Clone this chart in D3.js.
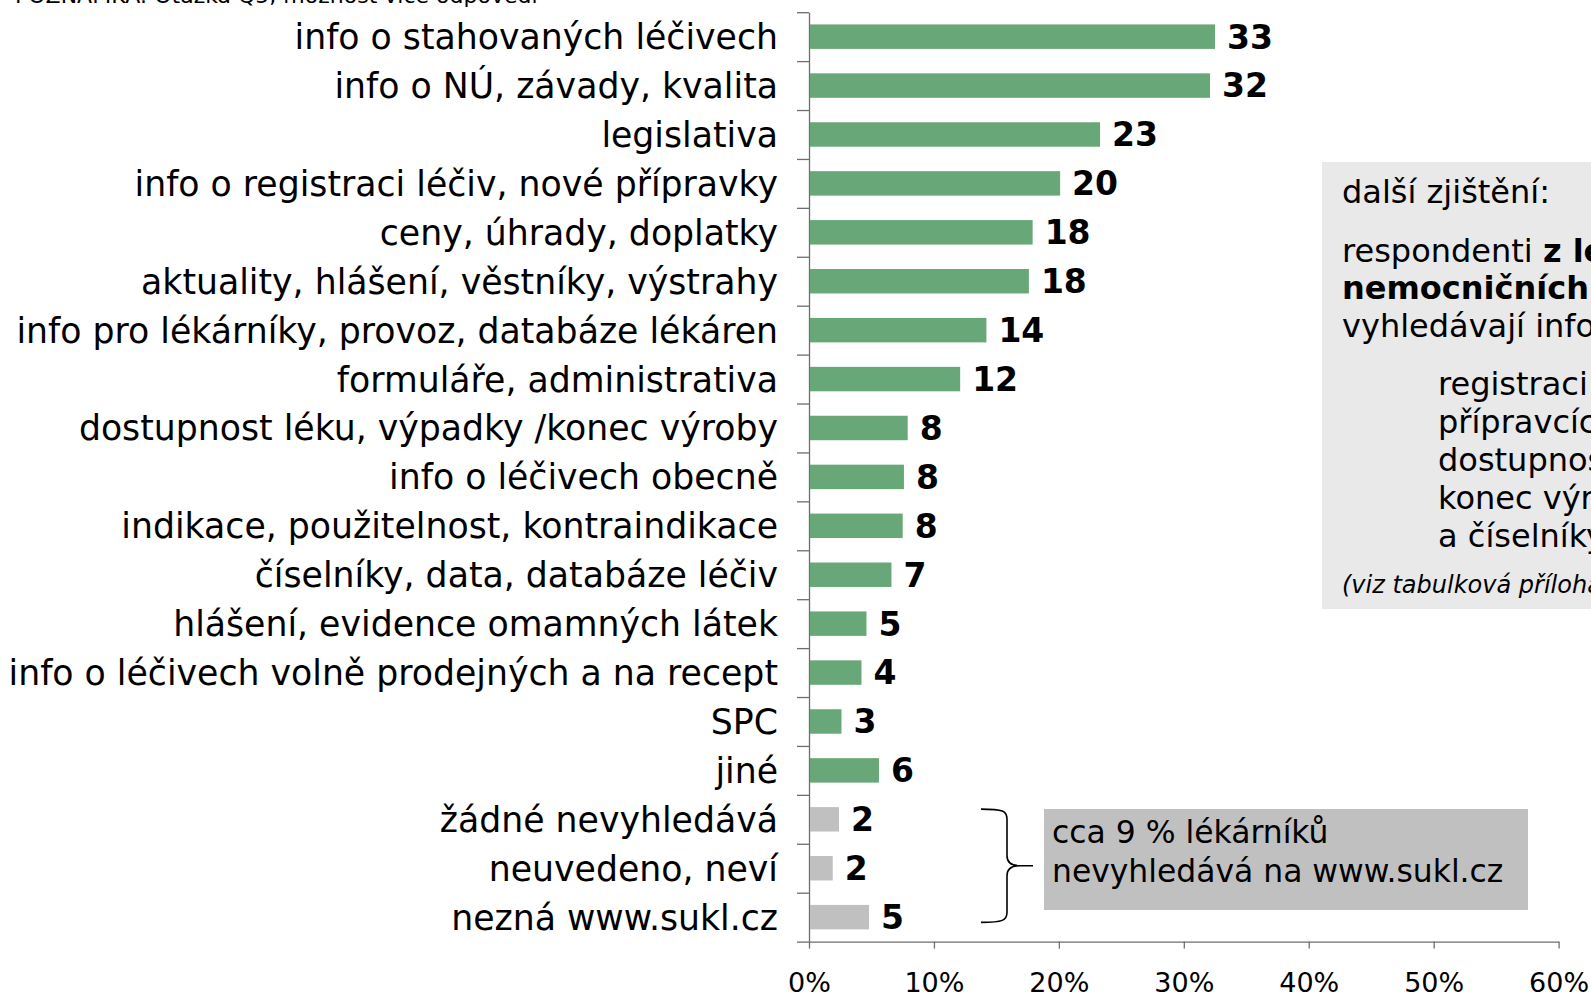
<!DOCTYPE html>
<html lang="cs">
<head>
<meta charset="utf-8">
<script src="https://cdn.jsdelivr.net/npm/d3@7"></script>
<style>
  html, body { margin: 0; padding: 0; background: #fff; }
  svg { display: block; font-family: "DejaVu Sans", Verdana, sans-serif; }
</style>
</head>
<body>
<svg id="graf" width="1591" height="995"></svg>
<script>
const kategorie = [
  "info o stahovaných léčivech",
  "info o NÚ, závady, kvalita",
  "legislativa",
  "info o registraci léčiv, nové přípravky",
  "ceny, úhrady, doplatky",
  "aktuality, hlášení, věstníky, výstrahy",
  "info pro lékárníky, provoz, databáze lékáren",
  "formuláře, administrativa",
  "dostupnost léku, výpadky /konec výroby",
  "info o léčivech obecně",
  "indikace, použitelnost, kontraindikace",
  "číselníky, data, databáze léčiv",
  "hlášení, evidence omamných látek",
  "info o léčivech volně prodejných a na recept",
  "SPC",
  "jiné",
  "žádné nevyhledává",
  "neuvedeno, neví",
  "nezná www.sukl.cz"
];

// procenta odečtená z délky pruhů; popisky jsou zaokrouhlené hodnoty z grafu
const hodnoty = [32.5, 32.1, 23.3, 20.1, 17.9, 17.6, 14.2, 12.1, 7.9, 7.6, 7.5, 6.6, 4.6, 4.2, 2.6, 5.6, 2.4, 1.9, 4.8];
const popisky = [33, 32, 23, 20, 18, 18, 14, 12, 8, 8, 8, 7, 5, 4, 3, 6, 2, 2, 5];
const skupiny = [
  "hleda", "hleda", "hleda", "hleda", "hleda", "hleda", "hleda", "hleda",
  "hleda", "hleda", "hleda", "hleda", "hleda", "hleda", "hleda", "hleda",
  "nehleda", "nehleda", "nehleda"
];
const ticksX = [0, 10, 20, 30, 40, 50, 60];

const poznamka = "POZNÁMKA: Otázka Q5, možnost více odpovědí";
const boxNehleda = ["cca 9 % lékárníků", "nevyhledává na www.sukl.cz"];

const dalsiZjisteni = [
  { text: [["další zjištění:", false]], y: 203, odsazeni: 0 },
  { text: [["respondenti ", false], ["z lékáren", true]], y: 262, odsazeni: 0 },
  { text: [["nemocničních zařízení", true]], y: 299, odsazeni: 0 },
  { text: [["vyhledávají informace o:", false]], y: 337, odsazeni: 0 },
  { text: [["registraci léčiv,", false]], y: 395, odsazeni: 1 },
  { text: [["přípravcích,", false]], y: 433, odsazeni: 1 },
  { text: [["dostupnosti léků,", false]], y: 471, odsazeni: 1 },
  { text: [["konec výroby", false]], y: 509, odsazeni: 1 },
  { text: [["a číselníky", false]], y: 547, odsazeni: 1 }
];

const data = kategorie.map((k, i) => ({
  kategorie: k, hodnota: hodnoty[i], popisek: popisky[i], skupina: skupiny[i]
}));

const barvy = { hleda: "#68a777", nehleda: "#c0c0c0" };

const svg = d3.select("#graf");
const horni = 12.2;
const dolni = 941.6;
const levy = 809;
const pravy = 1558.6;

const x = d3.scaleLinear().domain([0, 60]).range([levy, pravy]);
const y = d3.scaleBand()
  .domain(kategorie)
  .range([horni, dolni])
  .paddingInner(0.5)
  .paddingOuter(0.25);
const yHranice = d3.scaleLinear().domain([0, kategorie.length]).range([horni, dolni]);

// poznámka nahoře je v originále useknutá
svg.append("text")
  .attr("x", 15)
  .attr("y", 3)
  .attr("font-size", "22px")
  .attr("fill", "#000")
  .text(poznamka);

// šedý box vpravo
svg.append("rect")
  .attr("x", 1322).attr("y", 162)
  .attr("width", 400).attr("height", 447)
  .attr("fill", "#e9e9e9");

const boxText = svg.append("g").attr("font-size", "32px").attr("fill", "#000");
dalsiZjisteni.forEach((r) => {
  const t = boxText.append("text")
    .attr("x", 1342 + r.odsazeni * 96)
    .attr("y", r.y);
  r.text.forEach(([s, tucne]) => {
    t.append("tspan").attr("font-weight", tucne ? "700" : "400").text(s);
  });
});
boxText.append("text")
  .attr("x", 1342).attr("y", 593)
  .attr("font-size", "24px")
  .attr("font-style", "italic")
  .text("(viz tabulková příloha)");

// osa Y s dílky na hranicích pásů
svg.append("g")
  .attr("transform", `translate(${levy},0)`)
  .call(d3.axisLeft(yHranice).tickValues(d3.range(kategorie.length + 1)).tickSize(12).tickSizeOuter(0).tickFormat(""))
  .call((sel) => sel.selectAll("line,.domain").attr("stroke", "#6e6e6e").attr("stroke-width", 1.3));

// osa X
svg.append("g")
  .attr("transform", `translate(0,${dolni})`)
  .call(d3.axisBottom(x).tickValues(ticksX).tickSize(7).tickSizeOuter(0).tickPadding(24).tickFormat((d) => d + "%"))
  .call((sel) => sel.selectAll("line,.domain").attr("stroke", "#6e6e6e").attr("stroke-width", 1.3))
  .call((sel) => sel.selectAll("text")
    .attr("fill", "#000")
    .attr("font-size", "27px")
    .attr("font-family", "\"DejaVu Sans\", sans-serif"));

// pruhy
svg.selectAll("rect.pruh")
  .data(data)
  .join("rect")
  .attr("class", "pruh")
  .attr("x", x(0) + 1)
  .attr("y", (d) => y(d.kategorie))
  .attr("width", (d) => x(d.hodnota) - x(0) - 1)
  .attr("height", y.bandwidth())
  .attr("fill", (d) => barvy[d.skupina]);

// popisky kategorií
svg.selectAll("text.kat")
  .data(data)
  .join("text")
  .attr("class", "kat")
  .attr("x", 778)
  .attr("y", (d) => y(d.kategorie) + y.bandwidth() / 2)
  .attr("dy", "0.36em")
  .attr("text-anchor", "end")
  .attr("font-size", "34.7px")
  .attr("fill", "#000")
  .text((d) => d.kategorie);

// hodnoty u pruhů
svg.selectAll("text.hodnota")
  .data(data)
  .join("text")
  .attr("class", "hodnota")
  .attr("x", (d) => x(d.hodnota) + 12)
  .attr("y", (d) => y(d.kategorie) + y.bandwidth() / 2)
  .attr("dy", "0.36em")
  .attr("font-size", "33px")
  .attr("font-weight", "700")
  .attr("fill", "#000")
  .text((d) => d.popisek);

// závorka a box u nevyhledávajících
const nehleda = data.filter((d) => d.skupina === "nehleda");
const zTop = y(nehleda[0].kategorie) + 2;
const zBottom = y(nehleda[nehleda.length - 1].kategorie) + y.bandwidth() - 7;
const zMid = (zTop + zBottom) / 2;
const zx0 = 981;
const zx1 = 1007;
const zTip = 1020;
const zavorka = d3.path();
zavorka.moveTo(zx0, zTop);
zavorka.bezierCurveTo(zx1 - 4, zTop, zx1, zTop + 2, zx1, zTop + 10);
zavorka.lineTo(zx1, zMid - 10);
zavorka.bezierCurveTo(zx1, zMid - 3, zx1 + 5, zMid, zTip, zMid);
zavorka.lineTo(1033, zMid);
zavorka.moveTo(zTip, zMid);
zavorka.bezierCurveTo(zx1 + 5, zMid, zx1, zMid + 3, zx1, zMid + 10);
zavorka.lineTo(zx1, zBottom - 10);
zavorka.bezierCurveTo(zx1, zBottom - 2, zx1 - 4, zBottom, zx0, zBottom);
svg.append("path")
  .attr("d", zavorka.toString())
  .attr("fill", "none")
  .attr("stroke", "#000")
  .attr("stroke-width", 1.6);

svg.append("rect")
  .attr("x", 1044).attr("y", 809)
  .attr("width", 484).attr("height", 101)
  .attr("fill", "#c0c0c0");

svg.append("g")
  .selectAll("text")
  .data(boxNehleda)
  .join("text")
  .attr("x", 1052)
  .attr("y", (d, i) => 843 + i * 39)
  .attr("font-size", "31.4px")
  .attr("fill", "#000")
  .text((d) => d);
</script>
</body>
</html>
